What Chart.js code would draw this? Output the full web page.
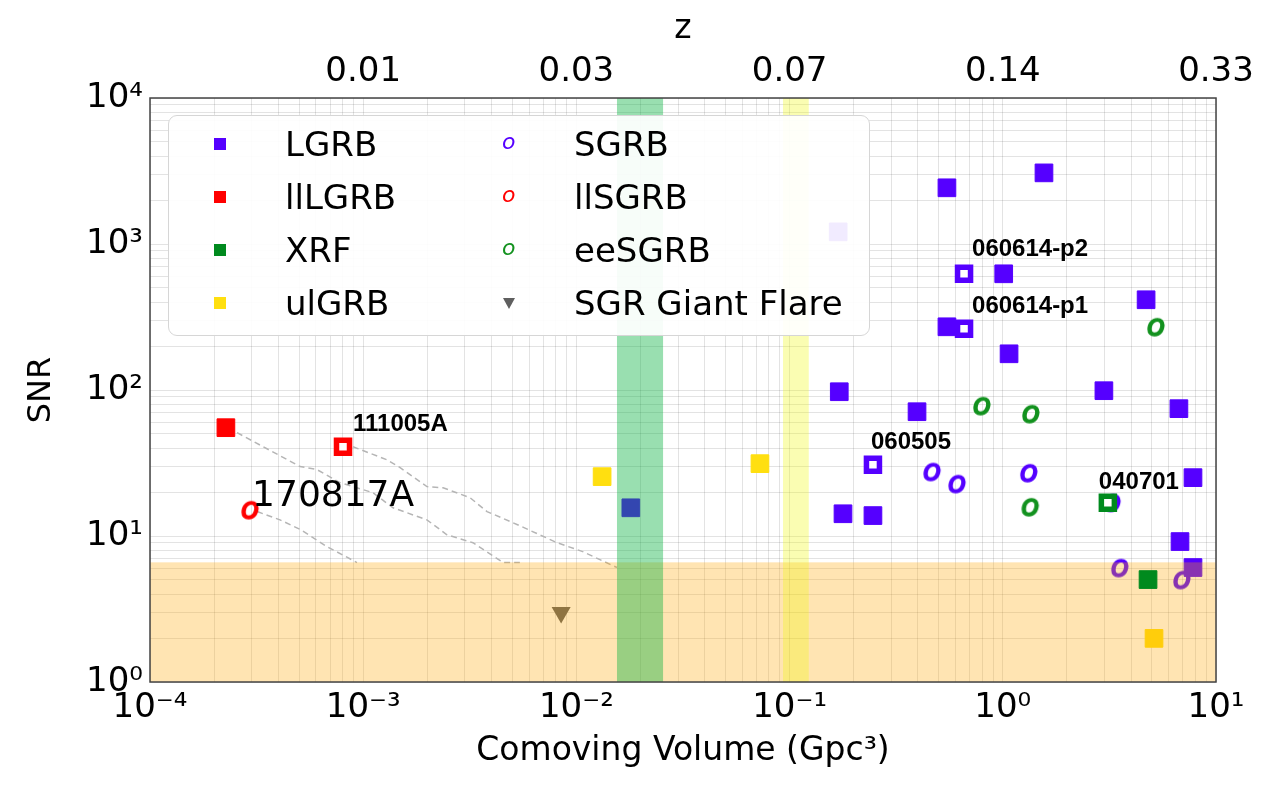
<!DOCTYPE html>
<html>
<head>
<meta charset="utf-8">
<script src="https://cdn.jsdelivr.net/npm/chart.js@4.4.0/dist/chart.umd.min.js"></script>
<style>
  html, body { margin: 0; padding: 0; background: #fff; }
  #wrap { position: relative; width: 1286px; height: 786px; }
  #legend {
    position: absolute; left: 168px; top: 115px; width: 702px; height: 221px;
    box-sizing: border-box; border: 1px solid #d6d6d6; border-radius: 9px;
    background: rgba(255, 255, 255, 0.92);
    font-family: "DejaVu Sans", sans-serif; font-size: 34px; color: #000;
  }
  .lg-text { position: absolute; height: 40px; line-height: 40px; white-space: nowrap; }
  .lg-mk { position: absolute; }
</style>
</head>
<body>
<div id="wrap">
  <canvas id="chart" width="1286" height="786"></canvas>
  <div id="legend"></div>
</div>
<script>
// ---- data (volume in Gpc^3, SNR) ----
const lgrbVolume = [0.169, 0.547, 1.56, 1.01, 0.547, 1.07, 4.70, 0.171, 0.396, 2.98, 6.70, 7.80, 0.178, 0.246, 6.78, 7.80, 0.0180];
const lgrbSnr    = [1211, 2426, 3070, 625, 271, 177, 415, 97.3, 71, 98.9, 74.5, 25.1, 14.2, 13.8, 9.16, 6.08, 15.6];

const lgrbNamedVolume = [0.658, 0.658, 0.246];
const lgrbNamedSnr    = [625, 263, 30.8];
const lgrbNames       = ['060614-p2', '060614-p1', '060505'];

const llLgrbVolume = [2.27e-4];
const llLgrbSnr    = [55.2];
const llLgrbNamedVolume = [8.04e-4];
const llLgrbNamedSnr    = [40.9];
const llLgrbNames       = ['111005A'];

const xrfVolume = [4.80];
const xrfSnr    = [5.03];
const xrfNamedVolume = [3.11];
const xrfNamedSnr    = [16.9];
const xrfNames       = ['040701'];

const ulgrbVolume = [0.0132, 0.0726, 5.12];
const ulgrbSnr    = [25.5, 31.3, 1.99];

const sgrbVolume = [0.471, 0.617, 1.34, 3.29, 3.58, 7.0];
const sgrbSnr    = [27.2, 22.5, 26.7, 16.7, 5.98, 4.95];

const llSgrbVolume = [2.98e-4];
const llSgrbSnr    = [14.9];
const llSgrbNames  = ['170817A'];

const eeSgrbVolume = [5.29, 0.807, 1.37, 1.36];
const eeSgrbSnr    = [267, 76.9, 67.8, 15.6];

const flareVolume = [0.00848];
const flareSnr    = [2.99];

// dashed tracks (burst moved further away)
const trackAVolume = [2.56e-4, 5.06e-4, 6.07e-4, 7.78e-4, 1.11e-3, 1.38e-3, 1.99e-3, 2.47e-3, 3.27e-3, 4.53e-3, 5.43e-3];
const trackASnr    = [51.0, 29.9, 28.5, 23.2, 19.8, 15.6, 12.9, 10.2, 9.0, 6.58, 6.58];
const trackBVolume = [8.95e-4, 1.29e-3, 1.49e-3, 1.99e-3, 2.37e-3, 3.17e-3, 3.81e-3, 5.26e-3, 8.11e-3, 1.07e-2, 1.55e-2];
const trackBSnr    = [40.9, 33.3, 29.4, 21.8, 21.4, 18.3, 14.7, 12.0, 9.0, 7.82, 6.08];
const trackCVolume = [3.18e-4, 4.07e-4, 5.06e-4, 6.76e-4, 9.35e-4];
const trackCSnr    = [14.7, 12.9, 11.1, 8.46, 6.58];

// shaded regions
const snrThreshold = 6.6;
const greenBand  = [0.0155, 0.0255];
const yellowBand = [0.0931, 0.123];

// top axis: redshift at each volume decade
const zTickVolumes = [1e-3, 1e-2, 1e-1, 1, 10];
const zTickLabels  = ['0.01', '0.03', '0.07', '0.14', '0.33'];

// ---- styles ----
const PURPLE = '#5500ff', RED = '#ff0000', GREEN = '#008a1e', YELLOW = '#ffdf10', EEGREEN = '#13921f', GREY = '#5f5f5f';

const labelOffsets = {
  '111005A': [10, -22], '060614-p2': [8, -24], '060614-p1': [8, -22],
  '060505': [-2, -22], '040701': [-9, -20], '170817A': [1, -14]
};

const pts = (xs, ys) => xs.map((x, i) => ({ x: x, y: ys[i] }));

function makeOMarker(color) {
  const c = document.createElement('canvas');
  c.width = 30; c.height = 30;
  const g = c.getContext('2d');
  g.font = 'oblique 30px "DejaVu Sans"';
  g.textAlign = 'center';
  g.textBaseline = 'alphabetic';
  g.fillStyle = color; g.strokeStyle = color; g.lineWidth = 1.6;
  g.fillText('o', 14, 23);
  g.strokeText('o', 14, 23);
  return c;
}

const filledSquare = (color) => ({ pointStyle: 'rect', pointRadius: 12.5, backgroundColor: color, borderColor: color, borderWidth: 1 });
const openSquare = (color) => ({ pointStyle: 'rect', pointRadius: 9.2, backgroundColor: '#ffffff', borderColor: color, borderWidth: 5.5 });
const oMarker = (color) => ({ pointStyle: makeOMarker(color), pointRadius: 12, backgroundColor: color, borderColor: color });
const track = (xs, ys) => ({
  data: pts(xs, ys), showLine: true, pointRadius: 0, borderColor: '#b5b5b5',
  borderWidth: 1.5, borderDash: [6, 4], order: 20
});

const superscript = { '0': '⁰', '1': '¹', '2': '²', '3': '³', '4': '⁴', '5': '⁵', '6': '⁶', '7': '⁷', '8': '⁸', '9': '⁹', '-': '⁻' };
const isDecade = (v) => Math.abs(Math.log10(v) - Math.round(Math.log10(v))) < 1e-9;
const powLabel = (v) => '10' + String(Math.round(Math.log10(v))).split('').map(c => superscript[c]).join('');

function logGrid(lo, hi) {
  const out = [];
  for (let e = lo; e < hi; e++) {
    for (let m = 1; m < 10; m++) out.push(m * Math.pow(10, e));
  }
  out.push(Math.pow(10, hi));
  return out;
}

function drawBands(chart) {
  const { ctx, chartArea: a, scales: { x, y } } = chart;
  ctx.save();
  ctx.beginPath();
  ctx.rect(a.left, a.top, a.right - a.left, a.bottom - a.top);
  ctx.clip();
  const yT = y.getPixelForValue(snrThreshold);
  ctx.fillStyle = 'rgba(255, 165, 0, 0.3)';
  ctx.fillRect(a.left, yT, a.right - a.left, a.bottom - yT);
  const g0 = x.getPixelForValue(greenBand[0]), g1 = x.getPixelForValue(greenBand[1]);
  ctx.fillStyle = 'rgba(0, 175, 57, 0.4)';
  ctx.fillRect(g0, a.top, g1 - g0, a.bottom - a.top);
  const y0 = x.getPixelForValue(yellowBand[0]), y1 = x.getPixelForValue(yellowBand[1]);
  ctx.fillStyle = 'rgba(240, 250, 0, 0.3)';
  ctx.fillRect(y0, a.top, y1 - y0, a.bottom - a.top);
  ctx.restore();
}

const overlayPlugin = {
  id: 'overlay',
  beforeDatasetsDraw(chart) { chart.$bandsDone = false; },
  beforeDatasetDraw(chart, args) {
    if (!chart.$bandsDone && chart.data.datasets[args.index].overBands) {
      drawBands(chart);
      chart.$bandsDone = true;
    }
  },
  afterDatasetsDraw(chart) {
    if (!chart.$bandsDone) drawBands(chart);
    const { ctx, chartArea: a } = chart;
    // names next to the marked bursts
    chart.data.datasets.forEach((ds, i) => {
      if (!ds.names) return;
      chart.getDatasetMeta(i).data.forEach((el, j) => {
        const name = ds.names[j];
        const off = labelOffsets[name] || [0, 0];
        ctx.save();
        ctx.font = name === '170817A' ? '36px "DejaVu Sans"' : 'bold 24px "Liberation Sans"';
        ctx.fillStyle = '#000';
        ctx.textAlign = 'left';
        ctx.textBaseline = 'middle';
        ctx.fillText(name, el.x + off[0], el.y + off[1]);
        ctx.restore();
      });
    });
    // frame
    ctx.save();
    ctx.strokeStyle = '#444';
    ctx.lineWidth = 1.5;
    ctx.strokeRect(a.left, a.top, a.right - a.left, a.bottom - a.top);
    ctx.restore();
  }
};

Chart.defaults.font.family = '"DejaVu Sans", sans-serif';
Chart.defaults.color = '#000';

const gridColor = 'rgba(0, 0, 0, 0.11)';

new Chart(document.getElementById('chart'), {
  type: 'scatter',
  data: {
    datasets: [
      Object.assign({ label: 'LGRB', data: pts(lgrbVolume, lgrbSnr), order: 8 }, filledSquare(PURPLE)),
      Object.assign({ label: 'LGRB named', data: pts(lgrbNamedVolume, lgrbNamedSnr), names: lgrbNames, order: 7 }, openSquare(PURPLE)),
      Object.assign({ label: 'llLGRB', data: pts(llLgrbVolume, llLgrbSnr), order: 6 }, filledSquare(RED)),
      Object.assign({ label: 'llLGRB named', data: pts(llLgrbNamedVolume, llLgrbNamedSnr), names: llLgrbNames, order: 6 }, openSquare(RED)),
      Object.assign({ label: 'ulGRB', data: pts(ulgrbVolume, ulgrbSnr), order: 6 }, filledSquare(YELLOW)),
      { label: 'SGR Giant Flare', data: pts(flareVolume, flareSnr), pointStyle: 'triangle', rotation: 180,
        pointRadius: 11, backgroundColor: GREY, borderColor: GREY, borderWidth: 0, order: 6 },
      Object.assign({ label: 'SGRB', data: pts(sgrbVolume, sgrbSnr), order: 5 }, oMarker(PURPLE)),
      Object.assign({ label: 'llSGRB', data: pts(llSgrbVolume, llSgrbSnr), names: llSgrbNames, order: 5 }, oMarker(RED)),
      Object.assign({ label: 'eeSGRB', data: pts(eeSgrbVolume, eeSgrbSnr), order: 5 }, oMarker(EEGREEN)),
      Object.assign({ label: 'XRF', data: pts(xrfVolume, xrfSnr), order: 1, overBands: true }, filledSquare(GREEN)),
      Object.assign({ label: 'XRF named', data: pts(xrfNamedVolume, xrfNamedSnr), names: xrfNames, order: 1, overBands: true }, openSquare(GREEN)),
      track(trackAVolume, trackASnr),
      track(trackBVolume, trackBSnr),
      track(trackCVolume, trackCSnr)
    ]
  },
  options: {
    responsive: false,
    animation: false,
    events: [],
    layout: { padding: { left: 0, right: 70, top: 0, bottom: 0 } },
    plugins: { legend: { display: false }, tooltip: { enabled: false } },
    scales: {
      x: {
        type: 'logarithmic', position: 'bottom', min: 1e-4, max: 10,
        afterFit: (s) => { s.height = 104; },
        afterBuildTicks: (s) => { s.ticks = logGrid(-4, 1).map(v => ({ value: v })); },
        ticks: { autoSkip: false, maxRotation: 0, padding: 6, font: { size: 34 },
                 callback: (v) => isDecade(v) ? powLabel(v) : '' },
        grid: { color: gridColor, drawTicks: false },
        border: { display: false },
        title: { display: true, text: 'Comoving Volume (Gpc³)', font: { size: 33 }, padding: { top: 0, bottom: 15 } }
      },
      x2: {
        type: 'logarithmic', position: 'top', min: 1e-4, max: 10,
        afterFit: (s) => { s.height = 98; },
        afterBuildTicks: (s) => { s.ticks = zTickVolumes.map(v => ({ value: v })); },
        ticks: { autoSkip: false, maxRotation: 0, padding: -3, font: { size: 34 },
                 callback: (v, i) => zTickLabels[i] },
        grid: { display: false },
        border: { display: false },
        title: { display: true, text: 'z', font: { size: 33 }, padding: { top: 10, bottom: 0 } }
      },
      y: {
        type: 'logarithmic', position: 'left', min: 1, max: 1e4,
        afterFit: (s) => { s.width = 150; },
        afterBuildTicks: (s) => { s.ticks = logGrid(0, 4).map(v => ({ value: v })); },
        ticks: { autoSkip: false, padding: 7, font: { size: 34 },
                 callback: (v) => isDecade(v) ? powLabel(v) : '' },
        grid: { color: gridColor, drawTicks: false },
        border: { display: false },
        title: { display: true, text: 'SNR', font: { size: 32 }, padding: { top: 22, bottom: 0 } }
      }
    }
  },
  plugins: [overlayPlugin]
});

// ---- legend (overlaid box, two columns) ----
const legendEntries = [
  { label: 'LGRB', kind: 'square', color: PURPLE },
  { label: 'llLGRB', kind: 'square', color: RED },
  { label: 'XRF', kind: 'square', color: GREEN },
  { label: 'ulGRB', kind: 'square', color: YELLOW },
  { label: 'SGRB', kind: 'o', color: PURPLE },
  { label: 'llSGRB', kind: 'o', color: RED },
  { label: 'eeSGRB', kind: 'o', color: EEGREEN },
  { label: 'SGR Giant Flare', kind: 'tri', color: GREY }
];
const legendBox = document.getElementById('legend');
legendEntries.forEach((e, i) => {
  const col = i < 4 ? 0 : 1, row = i % 4;
  const cy = 28 + row * 53;
  const mx = col ? 340 : 51;
  const tx = col ? 405 : 116;
  const mk = document.createElement('div');
  mk.className = 'lg-mk';
  if (e.kind === 'square') {
    Object.assign(mk.style, { left: (mx - 6) + 'px', top: (cy - 6) + 'px', width: '12px', height: '12px', background: e.color });
  } else if (e.kind === 'o') {
    Object.assign(mk.style, { left: (mx - 7) + 'px', top: (cy - 15) + 'px', height: '26px', lineHeight: '26px',
      fontSize: '22px', fontStyle: 'oblique', color: e.color });
    mk.textContent = 'o';
  } else {
    Object.assign(mk.style, { left: (mx - 6) + 'px', top: (cy - 5) + 'px', width: '0', height: '0',
      borderLeft: '6px solid transparent', borderRight: '6px solid transparent', borderTop: '11px solid ' + e.color });
  }
  const tt = document.createElement('div');
  tt.className = 'lg-text';
  tt.style.left = tx + 'px';
  tt.style.top = (cy - 20) + 'px';
  tt.textContent = e.label;
  legendBox.appendChild(mk);
  legendBox.appendChild(tt);
});
</script>
</body>
</html>
